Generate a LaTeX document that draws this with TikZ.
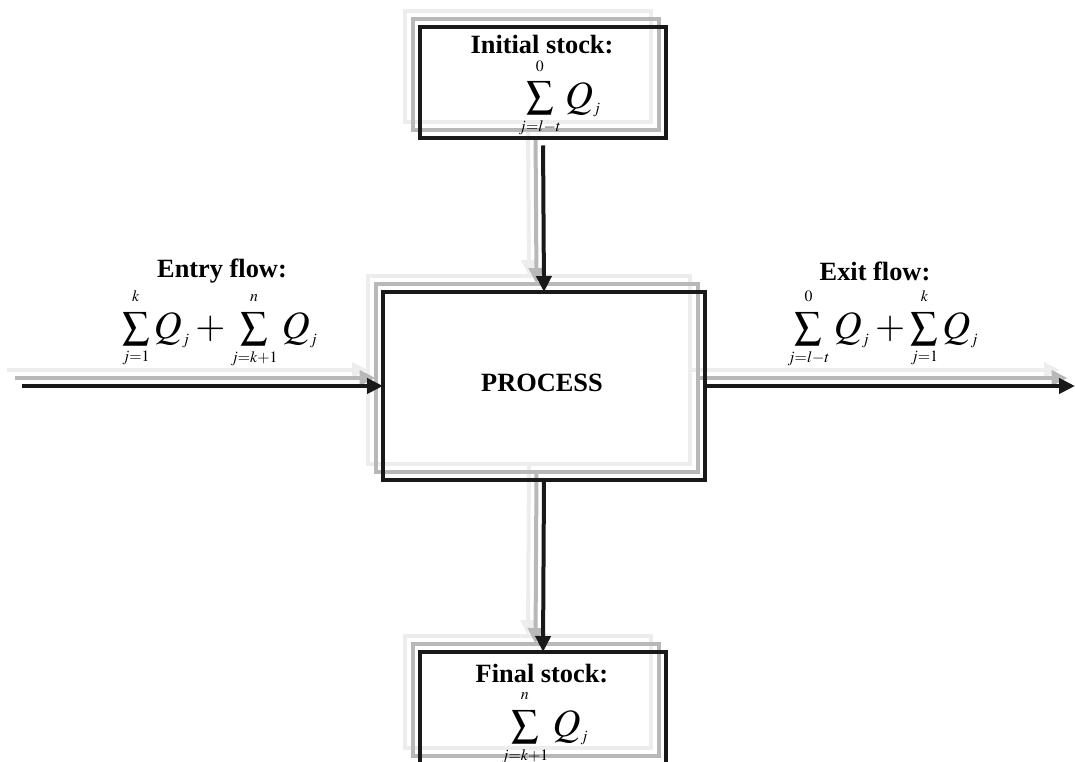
\documentclass[tikz,border=0pt]{standalone}
\usepackage{mathptmx}
\usepackage[no-math]{fontspec}
\setmainfont{Liberation Serif}
\usetikzlibrary{arrows.meta,backgrounds}
\DeclareMathSizes{22}{22}{9}{7}
% limits close to the sum sign
\newcommand{\tightlimits}{\fontdimen9\textfont3=4.5pt \fontdimen10\textfont3=3.5pt
  \fontdimen11\textfont3=6pt \fontdimen12\textfont3=9pt \fontdimen13\textfont3=0pt\relax}

\begin{document}
\begin{tikzpicture}[
        box/.style={rectangle, draw=black!90, line width=0.08cm, minimum width=4.92cm, minimum height=2.22cm, inner sep=0pt, outer sep=0pt},
        flow/.style={line width=0.08cm, -{Triangle[length=0.32cm,width=0.3cm]}},
        lbl/.style={font=\fontsize{15}{18}\selectfont\bfseries},
        sumtxt/.style={font=\fontsize{22}{24}\selectfont, inner sep=0pt}]

        \useasboundingbox (0,0) rectangle (21.5,15.24);

        % Stocks and process
        \node[box] (init) at (10.86,13.59) {};
        \node[box, minimum width=6.44cm, minimum height=3.76cm] (proc) at (10.88,7.52) {};
        \node[box, minimum height=2.24cm] (final) at (10.86,1.08) {};

        % Free ends of the flows
        \coordinate (in) at (0.44,7.52);
        \coordinate (out) at (21.5,7.52);

        % Flows
        \draw[flow, black!90] (in) -- (proc.west);
        \draw[flow, black!90] (proc.east) -- (out);
        \draw[flow, black!90, shorten <=0.15cm] (init.south) -- (proc.north);
        \draw[flow, black!90] (proc.south) -- (final.north);

        % Shadows
        \begin{scope}[on background layer]
        \foreach \dx/\dy/\tone in {-0.3/0.32/black!7, -0.15/0.16/black!28} {
            \begin{scope}[transform canvas={shift={(\dx,\dy)}}, draw=\tone, line width=0.08cm]
            \draw (init.south west) rectangle (init.north east);
            \draw (proc.south west) rectangle (proc.north east);
            \draw (final.south west) rectangle (final.north east);
            \draw[flow, \tone] (in) -- (proc.west);
            \draw[flow, \tone] (proc.east) -- (out);
            \draw[flow, \tone, shorten <=0.15cm] (init.south) -- (proc.north);
            \draw[flow, \tone] (proc.south) -- (final.north);
            \end{scope}
        }
        \end{scope}

        % Labels
        \node[lbl] (initlbl) at (10.84,14.34) {Initial stock:};
        \node[sumtxt] (initsum) at (11.2,13.28) {$\tightlimits\sum\limits_{j=l-t}^{0} Q_{j}$};

        \node[lbl] (entrylbl) at (4.44,9.82) {Entry flow:};
        \node[sumtxt] (entrysum) at (4.40,8.68) {$\tightlimits\sum\limits_{j=1}^{k} Q_{j} + \sum\limits_{j=k+1}^{n} Q_{j}$};

        \node[lbl] (exitlbl) at (17.5,9.82) {Exit flow:};
        \node[sumtxt] (exitsum) at (17.66,8.68) {$\tightlimits\sum\limits_{j=l-t}^{0} Q_{j} + \sum\limits_{j=1}^{k} Q_{j}$};

        \node[lbl] (proclbl) at (10.84,7.58) {PROCESS};

        \node[lbl] (finallbl) at (10.84,1.76) {Final stock:};
        \node[sumtxt] (finalsum) at (10.9,0.68) {$\tightlimits\sum\limits_{j=k+1}^{n} Q_{j}$};

    \end{tikzpicture}
\end{document}
